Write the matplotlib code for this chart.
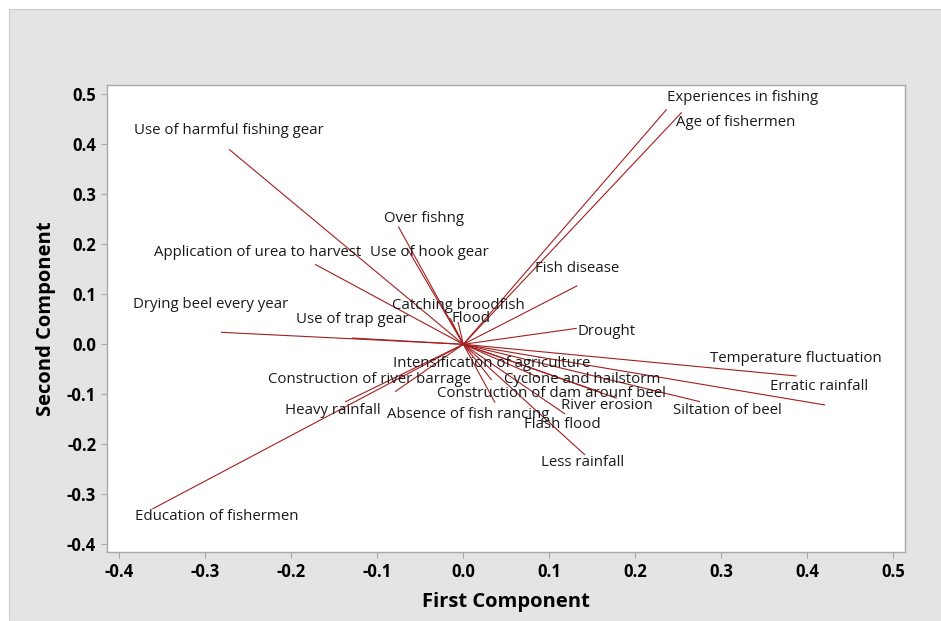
import matplotlib
matplotlib.use("Agg")
import matplotlib.pyplot as plt
from matplotlib.patches import Rectangle

# Loadings on the first two principal components
variables = [
    "Experiences in fishing", "Age of fishermen", "Use of harmful fishing gear",
    "Over fishng", "Application of urea to harvest", "Use of hook gear",
    "Fish disease", "Drying beel every year", "Catching broodfish",
    "Use of trap gear", "Flood", "Drought", "Temperature fluctuation",
    "Intensification of agriculture", "Construction of river barrage",
    "Cyclone and hailstorm", "Erratic rainfall", "Construction of dam arounf beel",
    "Heavy rainfall", "River erosion", "Absence of fish rancing",
    "Siltation of beel", "Flash flood", "Less rainfall", "Education of fishermen",
]
first_comp = [
    0.2365, 0.2540, -0.2724, -0.0756, -0.1724, -0.0655, 0.1326, -0.2817,
    -0.0155, -0.1294, -0.0062, 0.1319, 0.3877, 0.0330, -0.0794, 0.0892,
    0.4206, 0.1590, -0.1376, 0.1784, 0.0369, 0.2752, 0.1183, 0.1415, -0.3616,
]
second_comp = [
    0.470, 0.464, 0.390, 0.2356, 0.160, 0.1926, 0.1172, 0.024,
    0.0526, 0.0126, 0.0446, 0.032, -0.0634, -0.0714, -0.0948, -0.0674,
    -0.1214, -0.0954, -0.1154, -0.108, -0.1168, -0.1148, -0.1394, -0.2214, -0.3294,
]

# where each variable name is written (centre of the text)
label_pos = [
    (0.3252, 0.4946), (0.3165, 0.4446), (-0.2724, 0.4286), (-0.0463, 0.2526),
    (-0.2387, 0.1846), (-0.0393, 0.1846), (0.1322, 0.1526), (-0.2935, 0.0806),
    (-0.0056, 0.0786), (-0.1288, 0.0506), (0.0090, 0.0526), (0.1665, 0.0266),
    (0.3869, -0.0274), (0.0334, -0.0374), (-0.1091, -0.0694), (0.1380, -0.0694),
    (0.4136, -0.0834), (0.1020, -0.0974), (-0.1521, -0.1314), (0.1665, -0.1214),
    (0.0055, -0.1394), (0.3072, -0.1314), (0.1148, -0.1594), (0.1392, -0.2374),
    (-0.2864, -0.3454),
]

ticks = [-0.4, -0.3, -0.2, -0.1, 0.0, 0.1, 0.2, 0.3, 0.4, 0.5]

plt.rcParams['font.family'] = ['Open Sans', 'DejaVu Sans']

fig = plt.figure(figsize=(9.41, 6.21), dpi=100, facecolor='white')
# grey graph region behind the plot
fig.patches.append(Rectangle((9 / 941, 0), 1, 612 / 621, transform=fig.transFigure,
                             facecolor='#e4e4e4', edgecolor='#cccccc', lw=0.8, zorder=-5))

ax = fig.add_axes([0.1140, 0.1116, 0.8478, 0.7515])
ax.set_facecolor('white')

line_color = '#a31f1f'
for x, y in zip(first_comp, second_comp):
    ax.plot([0, x], [0, y], color=line_color, lw=0.8, solid_capstyle='butt')

for name, (lx, ly) in zip(variables, label_pos):
    ax.text(lx, ly, name, ha='center', va='center', fontsize=10.8, color='#1a1a1a')

ax.set_xlim(-0.414, 0.5136)
ax.set_ylim(-0.4148, 0.5186)
ax.set_xticks(ticks)
ax.set_yticks(ticks)
ax.set_xticklabels([f"{t:.1f}" for t in ticks])
ax.set_yticklabels([f"{t:.1f}" for t in ticks])

for spine in ax.spines.values():
    spine.set_color('#a8a8a8')
    spine.set_linewidth(1.0)
ax.tick_params(direction='out', length=4, width=0.8, color='#a8a8a8',
               labelsize=12, pad=4)
for lab in ax.get_xticklabels() + ax.get_yticklabels():
    lab.set_fontweight('bold')

ax.set_xlabel("First Component", fontsize=14.5, fontweight='bold', labelpad=8)
ax.set_ylabel("Second Component", fontsize=14.5, fontweight='bold', labelpad=8)

fig.savefig("out.png", dpi=100, facecolor=fig.get_facecolor())
